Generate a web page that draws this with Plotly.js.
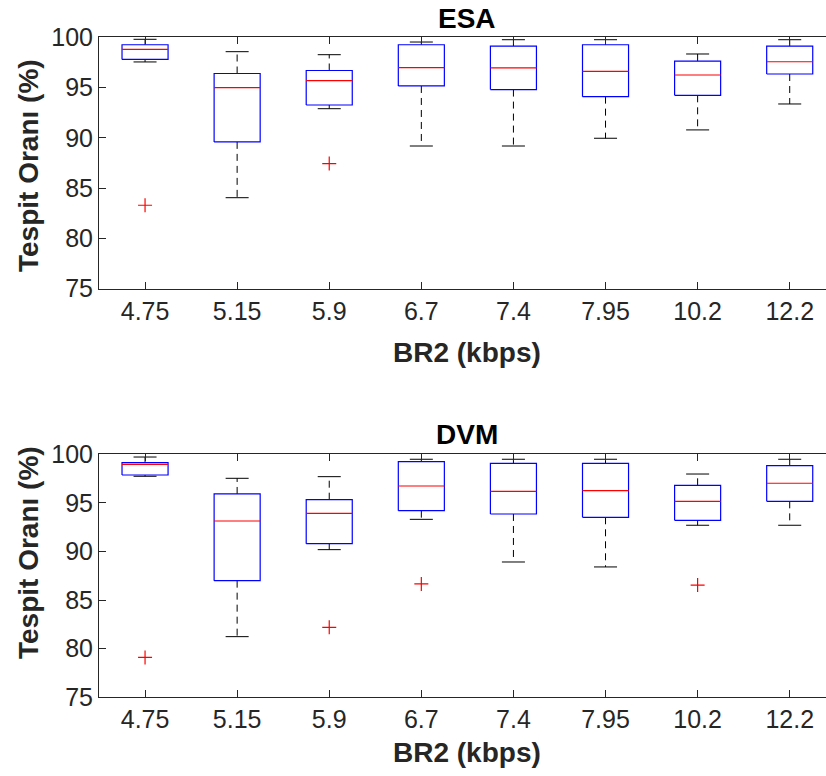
<!DOCTYPE html>
<html>
<head>
<meta charset="utf-8">
<script src="https://cdn.plot.ly/plotly-3.0.1.min.js"></script>
<style>html,body{margin:0;padding:0;background:#fff}#chart{width:826px;height:776px}</style>
</head>
<body>
<div id="chart"></div>
<script>
// ---- data ----
var categories = ['4.75', '5.15', '5.9', '6.7', '7.4', '7.95', '10.2', '12.2'];

var esaUpper = [99.80, 98.57, 98.27, 99.53, 99.76, 99.76, 98.34, 99.76];
var esaQ3    = [99.26, 96.40, 96.70, 99.26, 99.13, 99.26, 97.64, 99.13];
var esaMed   = [98.80, 95.00, 95.69, 96.98, 96.95, 96.62, 96.25, 97.57];
var esaQ1    = [97.80, 89.60, 93.27, 95.16, 94.80, 94.10, 94.23, 96.35];
var esaLower = [97.55, 84.05, 92.90, 89.19, 89.19, 89.96, 90.79, 93.37];
var esaOutCat = ['4.75', '5.9'];
var esaOutVal = [83.3, 87.44];

var dvmUpper = [99.72, 97.53, 97.70, 99.49, 99.49, 99.49, 97.97, 99.49];
var dvmQ3    = [99.14, 95.92, 95.33, 99.24, 99.07, 99.07, 96.81, 98.83];
var dvmMed   = [98.97, 93.14, 93.93, 96.74, 96.19, 96.26, 95.16, 97.02];
var dvmQ1    = [97.87, 87.00, 90.80, 94.20, 93.86, 93.52, 93.21, 95.16];
var dvmLower = [97.74, 81.24, 90.19, 93.31, 88.92, 88.41, 92.70, 92.70];
var dvmOutCat = ['4.75', '5.9', '6.7', '10.2'];
var dvmOutVal = [79.1, 82.2, 86.66, 86.55];

var yTicks = [75, 80, 85, 90, 95, 100];

// ---- construction ----
var BOX_HALF = 0.25, CAP_HALF = 0.125;
function buildTraces(up, q3, med, q1, lo, outCat, outVal, xa, ya) {
  var bx = [], by = [], mx = [], my = [], wx = [], wy = [], cx = [], cy = [];
  for (var i = 0; i < categories.length; i++) {
    var c = i + 1, l = c - BOX_HALF, r = c + BOX_HALF;
    bx.push(l, r, r, l, l, null); by.push(q1[i], q1[i], q3[i], q3[i], q1[i], null);
    mx.push(l, r, null); my.push(med[i], med[i], null);
    wx.push(c, c, null, c, c, null); wy.push(q3[i], up[i], null, q1[i], lo[i], null);
    cx.push(c - CAP_HALF, c + CAP_HALF, null, c - CAP_HALF, c + CAP_HALF, null);
    cy.push(up[i], up[i], null, lo[i], lo[i], null);
  }
  var ox = outCat.map(function (k) { return categories.indexOf(k) + 1; });
  var common = {type: 'scatter', mode: 'lines', xaxis: xa, yaxis: ya, hoverinfo: 'skip', showlegend: false};
  return [
    Object.assign({}, common, {x: wx, y: wy, line: {color: '#000000', width: 1, dash: '7px,5px'}}),
    Object.assign({}, common, {x: cx, y: cy, line: {color: '#000000', width: 1}}),
    Object.assign({}, common, {x: bx, y: by, line: {color: '#0000FF', width: 1.2}}),
    Object.assign({}, common, {x: mx, y: my, line: {color: '#FF0000', width: 1.2}}),
    Object.assign({}, common, {x: ox, y: outVal, mode: 'markers',
      marker: {symbol: 'cross-thin-open', size: 10, line: {color: '#FF0000', width: 1.2}, color: '#FF0000'}})
  ];
}

var data = buildTraces(esaUpper, esaQ3, esaMed, esaQ1, esaLower, esaOutCat, esaOutVal, 'x', 'y')
  .concat(buildTraces(dvmUpper, dvmQ3, dvmMed, dvmQ1, dvmLower, dvmOutCat, dvmOutVal, 'x2', 'y2'));

var W = 826, H = 776, L = 99;
function px2x(p) { return (p - L) / (W - L); }
function py2y(p) { return 1 - p / H; }

var tickFont = {family: 'Liberation Sans, Arial, sans-serif', size: 25, color: '#262626'};
var axColor = '#262626';
function xAxis(anchor) {
  return {anchor: anchor, domain: [0, 1], range: [0.5, 8.394], tickmode: 'array',
    tickvals: categories.map(function (c, i) { return i + 1; }), ticktext: categories,
    ticks: 'inside', ticklen: 7, tickcolor: axColor, tickwidth: 1,
    showline: true, linecolor: axColor, linewidth: 1, mirror: 'ticks',
    showgrid: false, zeroline: false, tickfont: tickFont, fixedrange: true};
}
function yAxis(anchor, dom) {
  return {anchor: anchor, domain: dom, range: [75, 100], tickmode: 'array', tickvals: yTicks,
    ticks: 'inside', ticklen: 7, tickcolor: axColor, tickwidth: 1,
    showline: true, linecolor: axColor, linewidth: 1, mirror: false,
    showgrid: false, zeroline: false, tickfont: tickFont, fixedrange: true};
}

var titleFont = {family: 'Liberation Sans, Arial, sans-serif', size: 28, color: '#000000'};
var labFont = {family: 'Liberation Sans, Arial, sans-serif', size: 28, color: '#262626'};
function ann(text, xref, x, y, font, angle) {
  return {text: '<b>' + text + '</b>', xref: xref, yref: 'paper', x: x, y: y,
    xanchor: 'center', yanchor: 'middle', showarrow: false, font: font, textangle: angle || 0};
}

var layout = {
  width: W, height: H,
  margin: {l: L, r: 0, t: 0, b: 0, pad: 0},
  paper_bgcolor: '#ffffff', plot_bgcolor: '#ffffff',
  xaxis: xAxis('y'),
  yaxis: yAxis('x', [py2y(288.7), py2y(37.3)]),
  xaxis2: xAxis('y2'),
  yaxis2: yAxis('x2', [py2y(697.3), py2y(454.3)]),
  annotations: [
    ann('ESA', 'x', 4.5, py2y(18.5), titleFont),
    ann('DVM', 'x2', 4.5, py2y(434), titleFont),
    ann('BR2 (kbps)', 'x', 4.5, py2y(353), labFont),
    ann('BR2 (kbps)', 'x2', 4.5, py2y(752), labFont),
    ann('Tespit Oranı (%)', 'paper', px2x(28), py2y(166), labFont, -90),
    ann('Tespit Oranı (%)', 'paper', px2x(28), py2y(553), labFont, -90)
  ]
};

Plotly.newPlot('chart', data, layout, {staticPlot: true, displayModeBar: false});
</script>
</body>
</html>
